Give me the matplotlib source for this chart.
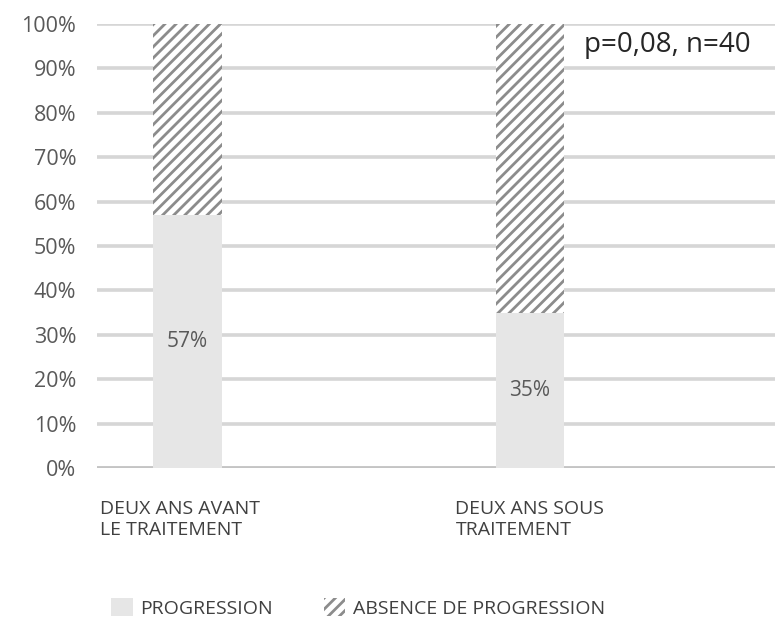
import matplotlib.pyplot as plt
from matplotlib.patches import Patch

categories = ["DEUX ANS AVANT\nLE TRAITEMENT", "DEUX ANS SOUS\nTRAITEMENT"]
progression = [57, 35]
absence = [43, 65]
legend_labels = ["PROGRESSION", "ABSENCE DE PROGRESSION"]
yticks = [0, 10, 20, 30, 40, 50, 60, 70, 80, 90, 100]

plt.rcParams['font.family'] = ['Open Sans', 'DejaVu Sans']
plt.rcParams['hatch.linewidth'] = 2.0
plt.rcParams['hatch.color'] = '#8c8c8c'

fig = plt.figure(figsize=(7.75, 6.21), dpi=100)
ax = fig.add_axes([97 / 775, 1 - 468 / 621, 1 - 97 / 775, 444 / 621])

x = range(len(categories))
ax.bar(x, progression, width=0.2, color='#e6e6e6', edgecolor='none', zorder=3)
ax.bar(x, absence, width=0.2, bottom=progression, color='white',
       edgecolor='#8c8c8c', linewidth=0, hatch='///', zorder=3)

for i, v in enumerate(progression):
    ax.text(i, v / 2, f"{v}%", ha='center', va='center', fontsize=15,
            color='#595959', zorder=4)

ax.set_ylim(0, 100)
ax.set_xlim(-0.265, 1.717)
ax.set_yticks(yticks)
ax.set_yticklabels([f"{t}%" for t in yticks], fontsize=15.5, color='#595959')
ax.tick_params(axis='y', length=0, pad=15)
ax.set_xticks([])
ax.yaxis.grid(True, color='#d6d6d6', linewidth=2.6, zorder=0)
ax.set_axisbelow(True)
for s in ax.spines.values():
    s.set_visible(False)
ax.axhline(0, color='#c4c4c4', linewidth=2.6, zorder=1)

# category labels, left aligned under each bar group
label_x = [-0.255, 0.783]
for lx, lab in zip(label_x, categories):
    ax.text(lx, -7.3, lab, ha='left', va='top', fontsize=14,
            color='#404040', linespacing=1.2)

ax.text(1.16, 95.3, "p=0,08, n=40", ha='left', va='center', fontsize=20,
        color='#262626', bbox=dict(facecolor='white', edgecolor='none', pad=2),
        zorder=5)

handles = [Patch(facecolor='#e6e6e6', edgecolor='none'),
           Patch(facecolor='white', edgecolor='#8c8c8c', linewidth=0, hatch='///')]
fig.legend(handles, legend_labels, loc='center', bbox_to_anchor=(0.462, 1 - 608 / 621),
           ncol=2, frameon=False, fontsize=14, labelcolor='#404040',
           handlelength=1.1, handleheight=1.0, handletextpad=0.4, columnspacing=2.6)

fig.savefig('out.png', dpi=100)
